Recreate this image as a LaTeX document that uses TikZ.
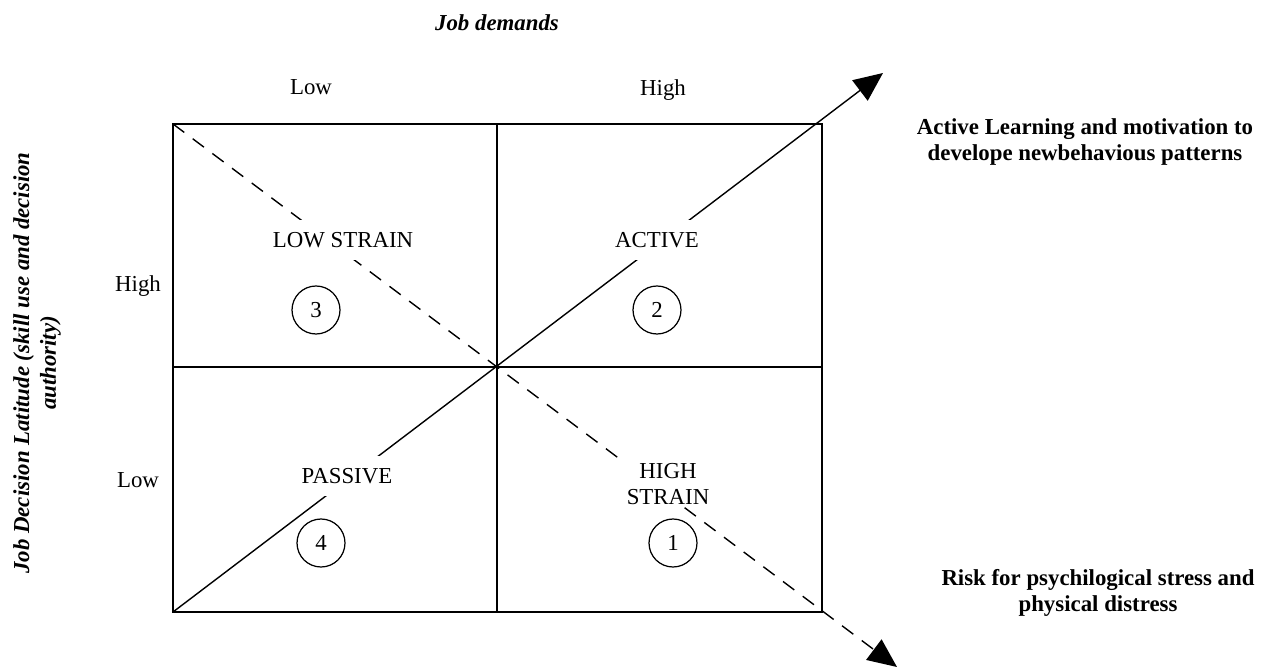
\documentclass[tikz,border=0pt]{standalone}
\usepackage{fontspec}
\setmainfont{Liberation Serif}
\usetikzlibrary{arrows.meta}
\tikzset{
  lbl/.style={font=\fontsize{13}{14.7}\selectfont},
  head/.style={font=\fontsize{13}{14.7}\selectfont\bfseries, align=center},
  quad/.style={lbl, fill=white, inner xsep=2pt, inner ysep=7pt, align=center},
  num/.style={lbl, draw, circle, minimum size=0.96cm, inner sep=0pt, line width=0.7pt},
  bigtip/.style={-{Triangle[length=16.5pt,width=14.5pt]}}
}
\begin{document}
\begin{tikzpicture}[x=0.02cm,y=-0.02cm,line width=0.8pt]
\useasboundingbox (0,0) rectangle (1270,668);
\coordinate (nw) at (173,124);
\coordinate (se) at (822,612);
\coordinate (sw) at (173,612);
\coordinate (tm) at (497,124);
\coordinate (bm) at (497,612);
\coordinate (lm) at (173,367);
\coordinate (rm) at (822,367);
\coordinate (tipup) at (883,73);
\coordinate (tipdown) at (897,667);
\draw (nw) rectangle (se);
\draw (tm) -- (bm);
\draw (lm) -- (rm);
\draw[bigtip] (sw) -- (tipup);
\draw[bigtip,dash pattern=on 8pt off 6pt] (nw) -- (tipdown);
% quadrant labels
\node[quad] (lowstrain) at (343,240) {LOW STRAIN};
\node[quad] (active) at (657,240) {ACTIVE};
\node[quad] (passive) at (347,476) {PASSIVE};
\node[quad,inner ysep=1pt] (highstrain) at (668,484) {HIGH\\STRAIN};
\node[num] (n3) at (316,310) {3};
\node[num] (n2) at (657,310) {2};
\node[num] (n4) at (321,543) {4};
\node[num] (n1) at (673,543) {1};
% axes
\node[head,font=\fontsize{13}{14.7}\selectfont\bfseries\itshape] (demands) at (497,23) {Job demands};
\node[lbl] (dlow) at (311,87) {Low};
\node[lbl] (dhigh) at (663,90) {High};
\node[lbl] (lhigh) at (138,286) {High};
\node[lbl] (llow) at (138,480) {Low};
\node[head,font=\fontsize{13}{15.3}\selectfont\bfseries\itshape,rotate=90] (latitude) at (37,363)
  {Job Decision Latitude (skill use and decision\\authority)};
% outcomes
\node[head] (learning) at (1085,142) {Active Learning and motivation to\\develope newbehavious patterns};
\node[head] (risk) at (1098,593) {Risk for psychilogical stress and\\physical distress};
\end{tikzpicture}
\end{document}
